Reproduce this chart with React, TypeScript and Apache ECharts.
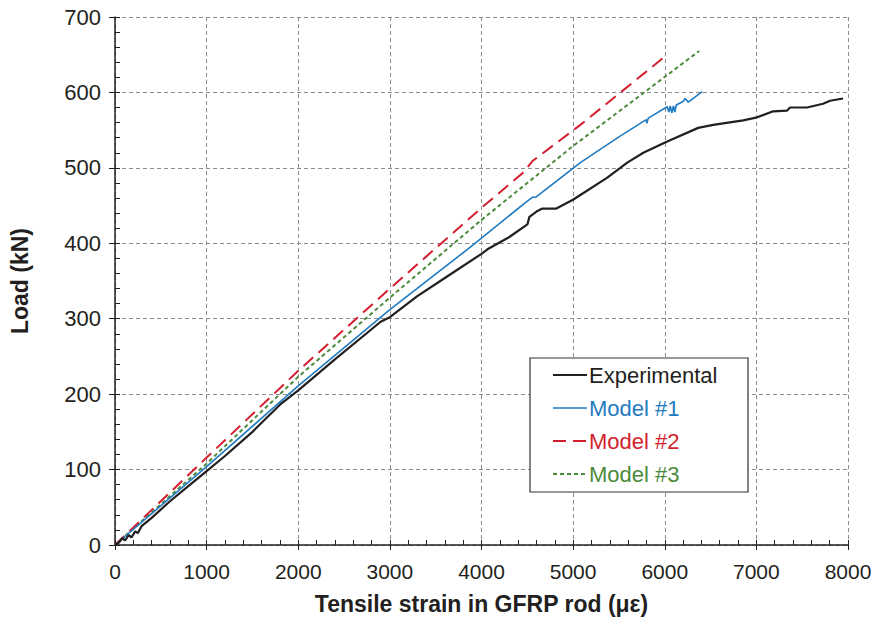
import React, { useEffect, useRef } from "react";
import * as echarts from "echarts";

const xTicks = [0, 1000, 2000, 3000, 4000, 5000, 6000, 7000, 8000];
const yTicks = [0, 100, 200, 300, 400, 500, 600, 700];

const seriesNames = ["Experimental", "Model #1", "Model #2", "Model #3"];

const experimental: [number, number][] = [
  [0, 0], [40, 3], [80, 9], [110, 6], [150, 13], [180, 10], [220, 18], [250, 16], [290, 25],
  [400, 36], [600, 58], [800, 78], [1000, 98], [1200, 118], [1500, 150], [1800, 186],
  [2000, 205], [2400, 246], [2899, 296], [3000, 302], [3300, 330], [3600, 354], [4000, 386],
  [4065, 392], [4300, 408], [4501, 425], [4523, 435], [4600, 442], [4665, 446], [4817, 446],
  [5003, 458], [5079, 464], [5373, 487], [5515, 500], [5591, 507], [5766, 520], [6027, 535],
  [6365, 553], [6529, 557], [6856, 563], [7008, 567], [7183, 575], [7335, 576], [7368, 580],
  [7553, 580], [7728, 585], [7804, 589], [7946, 592],
];

const model1: [number, number][] = [
  [0, 0], [1000, 104], [2000, 211], [3000, 312], [3847, 392], [4000, 407], [4500, 456],
  [4556, 461], [4590, 461], [5079, 507], [5500, 541], [5798, 564], [5805, 559], [5820, 566],
  [6027, 581], [6045, 574], [6060, 582], [6078, 573], [6095, 582], [6110, 574], [6125, 583],
  [6136, 584], [6200, 588], [6223, 592], [6256, 587], [6300, 591], [6409, 601],
];

const model2: [number, number][] = [
  [0, 0], [1000, 116], [2000, 231], [3000, 340], [4000, 447], [4458, 494], [4556, 509],
  [5079, 557], [6027, 650],
];

const model3: [number, number][] = [
  [0, 0], [1000, 108], [2000, 223], [3000, 328], [4000, 431], [5000, 529], [6376, 655],
];

const colors = ["#231f20", "#1f7bc1", "#d21f2f", "#4b8b3b"];

export default function App() {
  const ref = useRef<HTMLDivElement>(null);
  useEffect(() => {
    if (!ref.current) return;
    const chart = echarts.init(ref.current, undefined, { renderer: "svg" });
    const font = "'Liberation Sans', Arial, Helvetica, sans-serif";
    const axisColor = "#231f20";
    const datas = [experimental, model1, model2, model3];
    const widths = [2.2, 1.6, 2, 2];
    const dashes: (number[] | null)[] = [null, null, [13, 7], [4, 3]];

    const legendLeft = 530;
    const legendTop = 358;
    const rowY = [375, 408, 441, 474];
    const legendElems: any[] = [
      {
        type: "rect",
        shape: { x: legendLeft, y: legendTop, width: 218, height: 134 },
        style: { fill: "#fff", stroke: "#333", lineWidth: 1.2 },
        z: 100,
      },
    ];
    seriesNames.forEach((n, i) => {
      legendElems.push({
        type: "line",
        shape: { x1: 553, y1: rowY[i], x2: 587, y2: rowY[i] },
        style: { stroke: colors[i], lineWidth: widths[i], lineDash: dashes[i] || undefined },
        z: 101,
      });
      legendElems.push({
        type: "text",
        x: 589,
        y: rowY[i],
        style: {
          text: n,
          fill: colors[i],
          fontSize: 22,
          fontFamily: font,
          verticalAlign: "middle",
          textAlign: "left",
        },
        z: 101,
      });
    });

    chart.setOption({
      animation: false,
      textStyle: { fontFamily: font },
      grid: { left: 114, right: 29, top: 17, bottom: 73, containLabel: false },
      graphic: legendElems,
      xAxis: [
        {
          type: "value",
          min: xTicks[0],
          max: xTicks[xTicks.length - 1],
          interval: 1000,
          axisLine: { lineStyle: { color: axisColor, width: 1.5 } },
          axisTick: { inside: true, length: 5, lineStyle: { color: axisColor, width: 1 } },
          minorTick: { show: true, splitNumber: 5, length: 5, lineStyle: { color: axisColor, width: 1 } },
          splitLine: { show: true, lineStyle: { color: "#8c8c8c", type: [4, 3], width: 1 } },
          axisLabel: {
            fontSize: 21,
            color: axisColor,
            margin: 16,
            fontFamily: font,
            formatter: (v: number) => String(v),
          },
          name: "Tensile strain in GFRP rod (με)",
          nameLocation: "middle",
          nameGap: 47,
          nameTextStyle: { fontSize: 23, fontWeight: "bold", color: axisColor, fontFamily: font },
        },
        {
          type: "value",
          min: xTicks[0],
          max: xTicks[xTicks.length - 1],
          interval: 1000,
          position: "bottom",
          axisLine: { show: false },
          axisTick: { show: true, inside: false, length: 5, lineStyle: { color: axisColor, width: 1 } },
          axisLabel: { show: false },
          splitLine: { show: false },
        },
      ],
      yAxis: [
        {
          type: "value",
          min: yTicks[0],
          max: yTicks[yTicks.length - 1],
          interval: 100,
          axisLine: { show: true, lineStyle: { color: axisColor, width: 1.5 } },
          axisTick: { show: true, inside: true, length: 5, lineStyle: { color: axisColor, width: 1 } },
          minorTick: { show: true, splitNumber: 5, length: 5, lineStyle: { color: axisColor, width: 1 } },
          splitLine: { show: true, lineStyle: { color: "#8c8c8c", type: [4, 3], width: 1 } },
          axisLabel: { fontSize: 22, color: axisColor, margin: 14, fontFamily: font },
          name: "Load (kN)",
          nameLocation: "middle",
          nameGap: 84,
          nameTextStyle: { fontSize: 23, fontWeight: "bold", color: axisColor, fontFamily: font },
        },
        {
          type: "value",
          min: yTicks[0],
          max: yTicks[yTicks.length - 1],
          interval: 100,
          position: "left",
          axisLine: { show: false },
          axisTick: { show: true, inside: false, length: 6, lineStyle: { color: axisColor, width: 1 } },
          axisLabel: { show: false },
          splitLine: { show: false },
        },
      ],
      series: seriesNames.map((n, i) => ({
        name: n,
        type: "line",
        data: datas[i],
        showSymbol: false,
        symbol: "none",
        color: colors[i],
        lineStyle: { color: colors[i], width: widths[i], type: dashes[i] || "solid" },
        z: 10 - i,
      })),
    });
    return () => chart.dispose();
  }, []);
  return <div ref={ref} style={{ width: 877, height: 620, position: "absolute", left: 0, top: 0 }} />;
}
